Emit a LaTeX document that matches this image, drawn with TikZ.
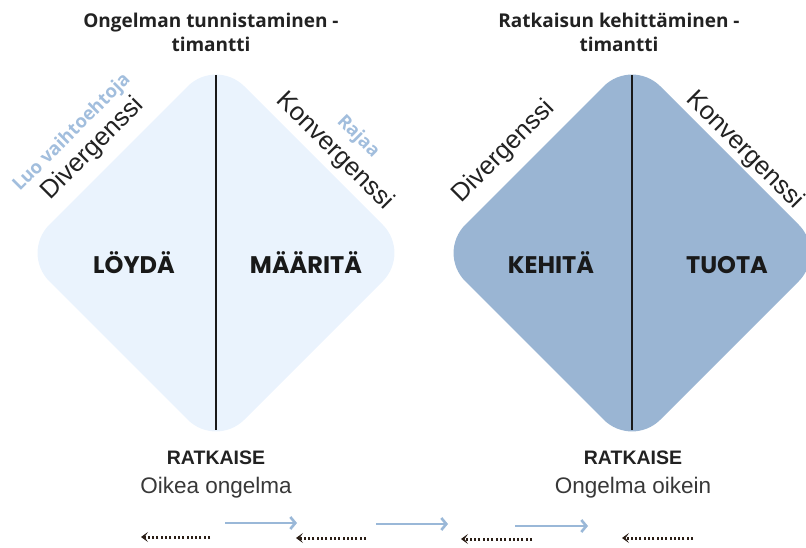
\documentclass[tikz,border=0pt]{standalone}
\usepackage{fontspec}
\setmainfont{Liberation Sans}
\newfontfamily\opensans{Open Sans}
\newfontfamily\poppins{Poppins}
\usetikzlibrary{arrows.meta}
\definecolor{lightfill}{HTML}{EAF3FD}
\definecolor{darkfill}{HTML}{9AB5D3}
\definecolor{labelblue}{HTML}{A2BEDD}
\definecolor{arrowblue}{HTML}{9AB8D8}
\definecolor{dotdark}{HTML}{2A1E16}
\definecolor{ink}{HTML}{222222}
\begin{document}
\begin{tikzpicture}[x=1pt,y=-1pt,
  titletext/.style={inner sep=0pt, anchor=base, text=ink, font=\opensans\bfseries\fontsize{19}{23}\selectfont},
  phase/.style={inner sep=0pt, anchor=base, text=black!90, font=\poppins\bfseries\fontsize{24}{28}\selectfont},
  rotlabel/.style={inner sep=0pt, text=ink, font=\fontsize{25.5}{30}\selectfont},
  bluelabel/.style={inner sep=0pt, text=labelblue, font=\opensans\bfseries\fontsize{18.5}{22}\selectfont},
  solvetext/.style={inner sep=0pt, anchor=base, text=ink, font=\bfseries\fontsize{19.5}{23}\selectfont},
  subtext/.style={inner sep=0pt, anchor=base, text=ink!90, font=\fontsize{22.5}{27}\selectfont},
  divider/.style={draw=black!90, line width=2.5pt},
  dotarrow/.style={draw=dotdark, line width=3pt, dash pattern=on 2pt off 2.3pt, -{Stealth[length=7pt,width=10pt,inset=3.5pt]}},
  bluearrow/.style={draw=arrowblue, line width=2.6pt, -{Straight Barb[length=5pt,width=12pt]}}
]
\useasboundingbox (0,0) rectangle (806,548);

% left diamond
\fill[lightfill, rounded corners=40pt] (216,58) -- (411,253) -- (216,448) -- (21,253) -- cycle;
% right diamond
\fill[darkfill, rounded corners=40pt] (632,58) -- (827,253) -- (632,448) -- (437,253) -- cycle;

% dividers
\coordinate (lt) at (216,75);
\coordinate (lb) at (216,430);
\coordinate (rt) at (632,75);
\coordinate (rb) at (632,430);
\draw[divider] (lt) -- (lb);
\draw[divider] (rt) -- (rb);

% titles
\node[titletext] (t1a) at (211,28) {Ongelman tunnistaminen -};
\node[titletext] (t1b) at (211,52) {timantti};
\node[titletext] (t2a) at (619,28) {Ratkaisun kehittäminen -};
\node[titletext] (t2b) at (619,52) {timantti};

% phase labels
\node[phase] (loyda) at (134,273) {LÖYDÄ};
\node[phase] (maarita) at (306,273) {MÄÄRITÄ};
\node[phase] (kehita) at (551,273) {KEHITÄ};
\node[phase] (tuota) at (727,273) {TUOTA};

% rotated labels
\node[rotlabel, rotate=45] (div1) at (93,149) {Divergenssi};
\node[bluelabel, rotate=45] (luo) at (72,133) {Luo vaihtoehtoja};
\node[rotlabel, rotate=-45] (kon1) at (335,151) {Konvergenssi};
\node[bluelabel, rotate=-45] (rajaa) at (358,137) {Rajaa};
\node[rotlabel, rotate=45] (div2) at (504,152) {Divergenssi};
\node[rotlabel, rotate=-45] (kon2) at (745,150) {Konvergenssi};

% bottom texts
\node[solvetext] (r1) at (216,464) {RATKAISE};
\node[subtext] (s1) at (216,493) {Oikea ongelma};
\node[solvetext] (r2) at (633,464) {RATKAISE};
\node[subtext] (s2) at (633,493) {Ongelma oikein};

% arrows
\coordinate (d1s) at (210,537); \coordinate (d1e) at (141,537);
\coordinate (d2s) at (366,538); \coordinate (d2e) at (296,538);
\coordinate (d3s) at (532,539); \coordinate (d3e) at (461,539);
\coordinate (d4s) at (693,538); \coordinate (d4e) at (622,538);
\draw[dotarrow] (d1s) -- (d1e);
\draw[dotarrow] (d2s) -- (d2e);
\draw[dotarrow] (d3s) -- (d3e);
\draw[dotarrow] (d4s) -- (d4e);
\coordinate (b1s) at (225,523); \coordinate (b1e) at (297,523);
\coordinate (b2s) at (376,524); \coordinate (b2e) at (448,524);
\coordinate (b3s) at (515,526); \coordinate (b3e) at (588,526);
\draw[bluearrow] (b1s) -- (b1e);
\draw[bluearrow] (b2s) -- (b2e);
\draw[bluearrow] (b3s) -- (b3e);
\end{tikzpicture}
\end{document}
